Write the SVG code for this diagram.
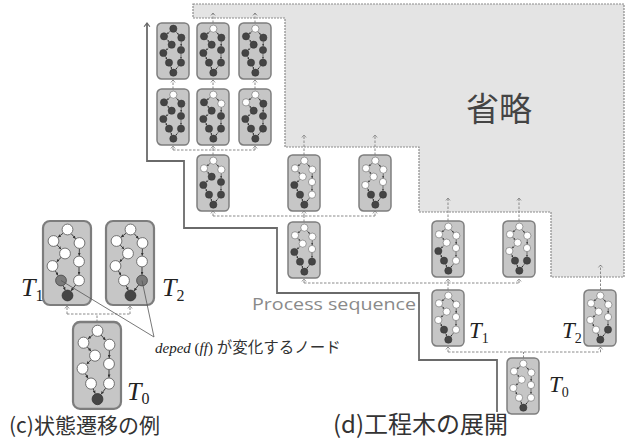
<svg xmlns="http://www.w3.org/2000/svg" xmlns:xlink="http://www.w3.org/1999/xlink" width="632" height="446" viewBox="0 0 632 446">
  <style>
    .bx{fill:#c6c6c6;stroke:#7d7d7d;stroke-width:2.2}
    .w{fill:#fff;stroke:#555;stroke-width:0.8}
    .d{fill:#454545;stroke:#333;stroke-width:0.8}
    .g{fill:#7a7a7a;stroke:#444;stroke-width:0.8}
    .ge{fill:none;stroke:#333;stroke-width:0.9;marker-end:url(#tip)}
    .cn{fill:none;stroke:#8a8a8a;stroke-width:1;stroke-dasharray:2.5 1.5}
    .ar{marker-end:url(#up)}
    .seq{fill:none;stroke:#6a6a6a;stroke-width:1.8;marker-end:url(#seqtip)}
    .omit{fill:#e4e4e4;stroke:#8c8c8c;stroke-width:1.2;stroke-dasharray:2 1}
    .ti{font-family:"Liberation Serif",serif;font-style:italic;fill:#222}
    .sub{font-style:normal}
    .jp{font-family:"Noto Sans CJK JP",sans-serif;fill:#333}
  </style>
  <defs>
    <marker id="tip" viewBox="0 0 4 4" refX="4" refY="2" markerWidth="3" markerHeight="3" orient="auto" markerUnits="userSpaceOnUse">
      <path d="M0,0 L4,2 L0,4z" fill="#333"/>
    </marker>
    <marker id="up" viewBox="-5 -5 10 10" refX="0" refY="0" markerWidth="7" markerHeight="7" orient="auto" markerUnits="userSpaceOnUse">
      <path d="M-3.5,-3 L0,0 L-3.5,3" fill="none" stroke="#777" stroke-width="1.1"/>
    </marker>
    <marker id="seqtip" viewBox="-6 -6 12 12" refX="0" refY="0" markerWidth="10" markerHeight="10" orient="auto" markerUnits="userSpaceOnUse">
      <path d="M-4.5,-3.5 L0,0 L-4.5,3.5" fill="none" stroke="#666" stroke-width="1.4"/>
    </marker>
    <!-- dependency chain inside a process box (48x84 box units) -->
    <g id="ge">
      <path class="ge" d="M20.2,12.1 L15,16.3"/>
      <path class="ge" d="M28.2,12.7 L32.6,17.7"/>
      <path class="ge" d="M14.3,24.1 L18.1,28.2"/>
      <path class="ge" d="M18,36.5 L13.6,40.9"/>
      <path class="ge" d="M12.3,49.8 L15.1,54.5"/>
      <path class="ge" d="M20.2,64.6 L22.2,69.2"/>
      <path class="ge" d="M36.4,27.6 L36.2,34.7"/>
      <path class="ge" d="M36,46.1 L36,53.7"/>
      <path class="ge" d="M32.6,64 L28,69.9"/>
    </g>
    <circle id="k1" cx="24.5" cy="8.5" r="5.4"/>
    <circle id="k2" cx="10.5" cy="20" r="5.4"/>
    <circle id="k3" cx="36.5" cy="22" r="5.4"/>
    <circle id="k4" cx="22" cy="32.5" r="5.4"/>
    <circle id="k5" cx="36" cy="40.5" r="5.4"/>
    <circle id="k6" cx="9.5" cy="45" r="5.4"/>
    <circle id="k7" cx="36" cy="59.5" r="5.4"/>
    <circle id="k8" cx="18" cy="59.5" r="5.4"/>
    <circle id="k9" cx="24.5" cy="74.5" r="5.4"/>
  </defs>

  <!-- omitted part of the tree -->
  <polygon class="omit" points="193,4 624,4 624,277 551,277 551,212 419,212 419,147 285,147 285,18 193,18"/>
  <text class="jp" x="466" y="121" font-size="33" style="fill:#444">省略</text>

  <!-- process sequence line -->
  <path class="seq" d="M497,412 V360 H419 V293 H277 V228 H184 V161 H147 V23"/>
  <text x="252" y="310" font-family="Open Sans, sans-serif" font-size="17" fill="#8a8a8a" textLength="164" lengthAdjust="spacingAndGlyphs">Process sequence</text>

  <!-- connectors -->
  <g id="connectors">
    <!-- (c) -->
    <path class="cn" d="M97,322 V314 M67,314 H130"/>
    <path class="cn ar" d="M67,314 V306"/>
    <path class="cn ar" d="M130,314 V306"/>
    <!-- (d) -->
    <path class="cn" d="M523.5,358 V352 M448,352 H600.5"/>
    <path class="cn ar" d="M448,352 V347"/>
    <path class="cn ar" d="M600.5,352 V347"/>
    <path class="cn" d="M448,290 V283 M304,283 H519"/>
    <path class="cn ar" d="M304,283 V279"/>
    <path class="cn ar" d="M448,283 V279"/>
    <path class="cn ar" d="M519,283 V279"/>
    <path class="cn" d="M304,222 V216 M213,216 H375"/>
    <path class="cn ar" d="M213,216 V211"/>
    <path class="cn ar" d="M304,216 V211"/>
    <path class="cn ar" d="M375,216 V211"/>
    <path class="cn" d="M213,155 V150 M173,150 H255"/>
    <path class="cn ar" d="M173,150 V146"/>
    <path class="cn ar" d="M213,150 V146"/>
    <path class="cn ar" d="M255,150 V146"/>
    <path class="cn ar" d="M173,89 V80"/>
    <path class="cn ar" d="M213,89 V80"/>
    <path class="cn ar" d="M255,89 V80"/>
    <path class="cn ar" d="M213,23 V13"/>
    <path class="cn ar" d="M255,23 V13"/>
    <path class="cn ar" d="M304,155 V135"/>
    <path class="cn ar" d="M375,155 V135"/>
    <path class="cn ar" d="M448,221 V198"/>
    <path class="cn ar" d="M519,221 V198"/>
    <path class="cn ar" d="M600.5,290 V265"/>
  </g>

  <!-- (c) state transition example -->
  <g id="c-t1" transform="translate(43,221)">
    <rect class="bx" width="48" height="84" rx="7"/><use href="#ge"/>
    <use href="#k1" class="w"/><use href="#k2" class="w"/><use href="#k3" class="w"/><use href="#k4" class="w"/><use href="#k5" class="w"/><use href="#k6" class="w"/><use href="#k7" class="w"/><use href="#k8" class="g"/><use href="#k9" class="d"/>
  </g>
  <g id="c-t2" transform="translate(106,221)">
    <rect class="bx" width="48" height="84" rx="7"/><use href="#ge"/>
    <use href="#k1" class="w"/><use href="#k2" class="w"/><use href="#k3" class="w"/><use href="#k4" class="w"/><use href="#k5" class="w"/><use href="#k6" class="w"/><use href="#k7" class="g"/><use href="#k8" class="w"/><use href="#k9" class="d"/>
  </g>
  <g id="c-t0" transform="translate(73,322) scale(1,1.035)">
    <rect class="bx" width="48" height="84" rx="7"/><use href="#ge"/>
    <use href="#k1" class="w"/><use href="#k2" class="w"/><use href="#k3" class="w"/><use href="#k4" class="w"/><use href="#k5" class="w"/><use href="#k6" class="w"/><use href="#k7" class="w"/><use href="#k8" class="w"/><use href="#k9" class="d"/>
  </g>
  <text class="ti" x="21" y="296" font-size="26">T<tspan class="sub" font-size="16" dy="5">1</tspan></text>
  <text class="ti" x="162" y="296" font-size="26">T<tspan class="sub" font-size="16" dy="5">2</tspan></text>
  <text class="ti" x="127" y="400" font-size="26">T<tspan class="sub" font-size="16" dy="4">0</tspan></text>

  <!-- callout for the changed nodes -->
  <g id="callout">
    <path d="M61,280.5 L154,337 M142,280.5 L154,337" fill="none" stroke="#555" stroke-width="0.8"/>
    <text x="155" y="353" font-size="15"><tspan font-family="Liberation Serif, serif" font-style="italic" fill="#222">deped</tspan><tspan font-family="Liberation Serif, serif" fill="#222"> (</tspan><tspan font-family="Liberation Serif, serif" font-style="italic" fill="#222">ff</tspan><tspan font-family="Liberation Serif, serif" fill="#222">) </tspan><tspan class="jp" font-size="15.5">が変化するノード</tspan></text>
  </g>

  <!-- (d) process tree expansion -->
  <g id="n-a1" transform="translate(157,23) scale(0.6667)">
    <rect class="bx" width="48" height="84" rx="7"/><use href="#ge"/>
    <use href="#k1" class="d"/><use href="#k2" class="d"/><use href="#k3" class="d"/><use href="#k4" class="d"/><use href="#k5" class="d"/><use href="#k6" class="d"/><use href="#k7" class="d"/><use href="#k8" class="d"/><use href="#k9" class="d"/>
  </g>
  <g id="n-a2" transform="translate(197,23) scale(0.6667)">
    <rect class="bx" width="48" height="84" rx="7"/><use href="#ge"/>
    <use href="#k1" class="w"/><use href="#k2" class="d"/><use href="#k3" class="d"/><use href="#k4" class="d"/><use href="#k5" class="d"/><use href="#k6" class="d"/><use href="#k7" class="d"/><use href="#k8" class="d"/><use href="#k9" class="d"/>
  </g>
  <g id="n-a3" transform="translate(239,23) scale(0.6667)">
    <rect class="bx" width="48" height="84" rx="7"/><use href="#ge"/>
    <use href="#k1" class="w"/><use href="#k2" class="d"/><use href="#k3" class="d"/><use href="#k4" class="d"/><use href="#k5" class="d"/><use href="#k6" class="d"/><use href="#k7" class="d"/><use href="#k8" class="d"/><use href="#k9" class="d"/>
  </g>
  <g id="n-b1" transform="translate(157,89) scale(0.6667)">
    <rect class="bx" width="48" height="84" rx="7"/><use href="#ge"/>
    <use href="#k1" class="w"/><use href="#k2" class="d"/><use href="#k3" class="d"/><use href="#k4" class="d"/><use href="#k5" class="d"/><use href="#k6" class="d"/><use href="#k7" class="d"/><use href="#k8" class="d"/><use href="#k9" class="d"/>
  </g>
  <g id="n-b2" transform="translate(197,89) scale(0.6667)">
    <rect class="bx" width="48" height="84" rx="7"/><use href="#ge"/>
    <use href="#k1" class="w"/><use href="#k2" class="d"/><use href="#k3" class="w"/><use href="#k4" class="d"/><use href="#k5" class="d"/><use href="#k6" class="d"/><use href="#k7" class="d"/><use href="#k8" class="d"/><use href="#k9" class="d"/>
  </g>
  <g id="n-b3" transform="translate(239,89) scale(0.6667)">
    <rect class="bx" width="48" height="84" rx="7"/><use href="#ge"/>
    <use href="#k1" class="w"/><use href="#k2" class="w"/><use href="#k3" class="d"/><use href="#k4" class="d"/><use href="#k5" class="d"/><use href="#k6" class="d"/><use href="#k7" class="d"/><use href="#k8" class="d"/><use href="#k9" class="d"/>
  </g>
  <g id="n-c1" transform="translate(197,155) scale(0.6667)">
    <rect class="bx" width="48" height="84" rx="7"/><use href="#ge"/>
    <use href="#k1" class="w"/><use href="#k2" class="w"/><use href="#k3" class="w"/><use href="#k4" class="d"/><use href="#k5" class="d"/><use href="#k6" class="d"/><use href="#k7" class="d"/><use href="#k8" class="d"/><use href="#k9" class="d"/>
  </g>
  <g id="n-c2" transform="translate(288,155) scale(0.6667)">
    <rect class="bx" width="48" height="84" rx="7"/><use href="#ge"/>
    <use href="#k1" class="w"/><use href="#k2" class="w"/><use href="#k3" class="w"/><use href="#k4" class="w"/><use href="#k5" class="w"/><use href="#k6" class="d"/><use href="#k7" class="w"/><use href="#k8" class="d"/><use href="#k9" class="d"/>
  </g>
  <g id="n-c3" transform="translate(359,155) scale(0.6667)">
    <rect class="bx" width="48" height="84" rx="7"/><use href="#ge"/>
    <use href="#k1" class="w"/><use href="#k2" class="w"/><use href="#k3" class="w"/><use href="#k4" class="w"/><use href="#k5" class="w"/><use href="#k6" class="w"/><use href="#k7" class="d"/><use href="#k8" class="d"/><use href="#k9" class="d"/>
  </g>
  <g id="n-d" transform="translate(288,222) scale(0.6667)">
    <rect class="bx" width="48" height="84" rx="7"/><use href="#ge"/>
    <use href="#k1" class="w"/><use href="#k2" class="w"/><use href="#k3" class="w"/><use href="#k4" class="w"/><use href="#k5" class="w"/><use href="#k6" class="d"/><use href="#k7" class="d"/><use href="#k8" class="d"/><use href="#k9" class="d"/>
  </g>
  <g id="n-e1" transform="translate(432,221) scale(0.6667)">
    <rect class="bx" width="48" height="84" rx="7"/><use href="#ge"/>
    <use href="#k1" class="w"/><use href="#k2" class="w"/><use href="#k3" class="w"/><use href="#k4" class="w"/><use href="#k5" class="w"/><use href="#k6" class="d"/><use href="#k7" class="w"/><use href="#k8" class="d"/><use href="#k9" class="d"/>
  </g>
  <g id="n-e2" transform="translate(503,221) scale(0.6667)">
    <rect class="bx" width="48" height="84" rx="7"/><use href="#ge"/>
    <use href="#k1" class="w"/><use href="#k2" class="w"/><use href="#k3" class="w"/><use href="#k4" class="w"/><use href="#k5" class="w"/><use href="#k6" class="w"/><use href="#k7" class="d"/><use href="#k8" class="d"/><use href="#k9" class="d"/>
  </g>
  <g id="n-t1" transform="translate(432,290) scale(0.6667)">
    <rect class="bx" width="48" height="84" rx="7"/><use href="#ge"/>
    <use href="#k1" class="w"/><use href="#k2" class="w"/><use href="#k3" class="w"/><use href="#k4" class="w"/><use href="#k5" class="w"/><use href="#k6" class="w"/><use href="#k7" class="w"/><use href="#k8" class="d"/><use href="#k9" class="d"/>
  </g>
  <g id="n-t2" transform="translate(584,290) scale(0.6667)">
    <rect class="bx" width="48" height="84" rx="7"/><use href="#ge"/>
    <use href="#k1" class="w"/><use href="#k2" class="w"/><use href="#k3" class="w"/><use href="#k4" class="w"/><use href="#k5" class="w"/><use href="#k6" class="w"/><use href="#k7" class="d"/><use href="#k8" class="w"/><use href="#k9" class="d"/>
  </g>
  <g id="n-t0" transform="translate(507,358) scale(0.6667)">
    <rect class="bx" width="48" height="84" rx="7"/><use href="#ge"/>
    <use href="#k1" class="w"/><use href="#k2" class="w"/><use href="#k3" class="w"/><use href="#k4" class="w"/><use href="#k5" class="w"/><use href="#k6" class="w"/><use href="#k7" class="w"/><use href="#k8" class="w"/><use href="#k9" class="d"/>
  </g>
  <text class="ti" x="469" y="338" font-size="23">T<tspan class="sub" font-size="14" dy="5">1</tspan></text>
  <text class="ti" x="562" y="338" font-size="23">T<tspan class="sub" font-size="14" dy="5">2</tspan></text>
  <text class="ti" x="549" y="392" font-size="23">T<tspan class="sub" font-size="14" dy="5">0</tspan></text>

  <!-- captions -->
  <text class="jp" x="9" y="433" font-size="21">(c)状態遷移の例</text>
  <text class="jp" x="333" y="433" font-size="24">(d)工程木の展開</text>
</svg>
